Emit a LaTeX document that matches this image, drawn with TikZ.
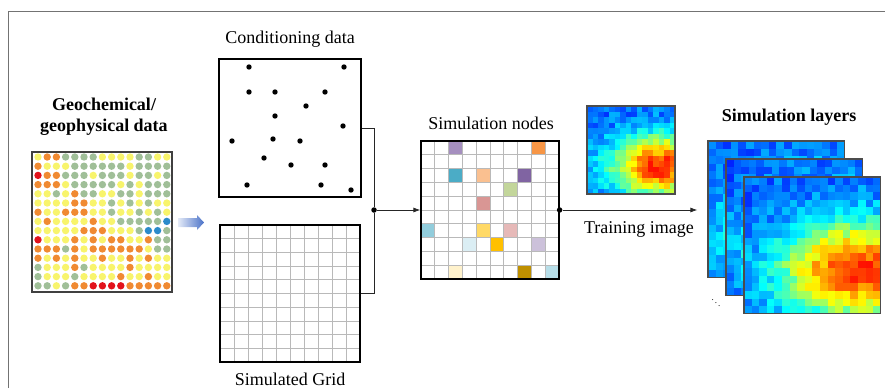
\documentclass[tikz,border=0pt]{standalone}
\usepackage{fontspec}
\setmainfont{Liberation Serif}
\usetikzlibrary{arrows.meta}

% dot colours of the geochemical map
\definecolor{geoY}{HTML}{F8F46C}
\definecolor{geoO}{HTML}{F08A32}
\definecolor{geoG}{HTML}{A0BF98}
\definecolor{geoR}{HTML}{E2121C}
\definecolor{geoB}{HTML}{2B8BCB}
% simulation node colours
\definecolor{snA}{HTML}{A58FBF}
\definecolor{snB}{HTML}{F79646}
\definecolor{snC}{HTML}{4BACC6}
\definecolor{snD}{HTML}{FAC090}
\definecolor{snE}{HTML}{8064A2}
\definecolor{snF}{HTML}{C3D69B}
\definecolor{snG}{HTML}{D99694}
\definecolor{snH}{HTML}{92CDDC}
\definecolor{snI}{HTML}{FFD966}
\definecolor{snJ}{HTML}{E6B9B8}
\definecolor{snK}{HTML}{DBEEF4}
\definecolor{snL}{HTML}{FFC000}
\definecolor{snM}{HTML}{CCC1DA}
\definecolor{snN}{HTML}{FFF2CC}
\definecolor{snO}{HTML}{BF9000}
\definecolor{snP}{HTML}{B7DEE8}
\definecolor{arrL}{HTML}{E4EAF7}
\definecolor{arrR}{HTML}{4A72C8}

% jet-coloured heat map: x0, y0, cell, n, seed
\newcommand{\drawheat}[5]{%
  \pgfmathsetseed{#5}
  \foreach \hi in {1,...,#4}{
    \foreach \hj in {1,...,#4}{
      \pgfmathsetmacro{\hu}{(\hi-0.5)/#4}
      \pgfmathsetmacro{\hw}{(\hj-0.5)/#4}
      \pgfmathsetmacro{\hv}{min(0.86,0.22+0.62*exp(-((\hu-0.82)*(\hu-0.82)/0.3+(\hw-0.68)*(\hw-0.68)/0.12))+0.065*rand)}
      \pgfmathsetmacro{\hr}{max(0,min(1,1.5-abs(4*\hv-3)))}
      \pgfmathsetmacro{\hg}{max(0,min(1,1.5-abs(4*\hv-2)))}
      \pgfmathsetmacro{\hb}{max(0,min(1,1.5-abs(4*\hv-1)))}
      \definecolor{heatc}{rgb}{\hr,\hg,\hb}
      \fill[heatc] ({#1+(\hi-1)*#3},{#2+(\hj-1)*#3}) rectangle ++(#3,#3);
    }
  }
}

\tikzset{
  lbl/.style={inner sep=0pt, font=\fontsize{18}{21}\selectfont},
  lblbold/.style={inner sep=0pt, align=center, font=\fontsize{18}{21}\selectfont\bfseries},
  box/.style={draw=black, line width=1.2pt, inner sep=0pt},
  heatbox/.style={draw=black!70, line width=1.2pt, inner sep=0pt},
  gridline/.style={gray!55, line width=0.7pt},
  conn/.style={draw=black!85, line width=0.8pt},
  jdot/.style={circle, fill=black, inner sep=0pt, minimum size=5.5pt},
  arr/.style={-{Latex[length=7pt,width=5pt]}},
  frame/.style={draw=black!55, line width=1pt},
}

\begin{document}
\begin{tikzpicture}[x=1pt, y=-1pt]
	\useasboundingbox (0,0) rectangle (885,388);
	\draw[frame] (8,388) -- (8,11) -- (885,11);

	% geochemical / geophysical data
	\node[lblbold] (geotitle) at (104,117) {Geochemical/\\geophysical data};
	\foreach \drow [count=\j from 0] in {
		{Y,O,O,G,G,G,G,Y,Y,Y,Y,G,G,Y,Y},
		{O,Y,Y,Y,G,G,G,G,G,G,Y,G,G,G,G},
		{R,O,O,G,G,G,Y,G,G,G,Y,G,G,Y,G},
		{O,O,O,Y,G,G,G,G,G,Y,G,Y,G,G,G},
		{Y,Y,G,Y,O,G,G,Y,Y,G,G,Y,G,G,G},
		{Y,Y,Y,Y,O,O,Y,Y,G,Y,G,Y,G,Y,Y},
		{O,Y,Y,O,O,O,Y,Y,G,Y,Y,G,Y,G,Y},
		{Y,O,Y,Y,Y,Y,O,Y,Y,G,G,G,G,G,B},
		{Y,Y,Y,Y,Y,O,O,O,Y,Y,Y,G,B,B,G},
		{R,Y,Y,Y,O,Y,O,Y,O,O,Y,Y,O,G,G},
		{O,O,O,G,O,Y,O,O,O,O,O,O,Y,G,G},
		{O,Y,O,Y,O,Y,Y,O,Y,Y,O,Y,O,Y,Y},
		{G,Y,Y,Y,O,G,Y,Y,Y,Y,O,Y,Y,Y,Y},
		{G,Y,Y,Y,G,Y,Y,Y,Y,O,Y,Y,O,Y,Y},
		{G,G,Y,G,O,O,R,R,R,R,O,O,O,O,O}}{
		\foreach \dc [count=\i from 0] in \drow
			\fill[geo\dc] ({38+9.2*\i},{157+9.2*\j}) circle (3.7);
	}
	\node[box, draw=black!75, minimum size=140pt] (geo) at (102,222) {};
	\shade[left color=arrL, right color=arrR] (178,218) -- (197,218) -- (197,215)
		-- (204,222.5) -- (197,230) -- (197,227) -- (178,227) -- cycle;

	% conditioning data
	\node[lbl] (condtitle) at (290,39) {Conditioning data};
	\node[box, minimum width=142pt, minimum height=138pt] (cond) at (290,128) {};
	\foreach \px/\py in {249/67, 344/67, 249/92, 275/92, 325/92, 306/106, 275/116,
		343/126, 232/141, 273/139, 300/141, 264/158, 291/165, 325/165, 247/185,
		321/185, 351/190}
		\fill ({\px},{\py}) circle (2.7);

	% simulated grid
	\foreach \k in {1,...,9}{
		\draw[gridline] ({220+14*\k},225) -- ({220+14*\k},362);
		\draw[gridline] (220,{225+13.7*\k}) -- (360,{225+13.7*\k});
	}
	\node[box, minimum width=140pt, minimum height=137pt] (simgrid) at (290,293.5) {};
	\node[lbl] (gridtitle) at (290,379) {Simulated Grid};

	% simulation nodes
	\node[lbl] (nodestitle) at (491,123) {Simulation nodes};
	\foreach \sc/\sr/\scol in {2/0/snA, 8/0/snB, 2/2/snC, 4/2/snD, 7/2/snE, 6/3/snF,
		4/4/snG, 0/6/snH, 4/6/snI, 6/6/snJ, 3/7/snK, 5/7/snL, 8/7/snM, 2/9/snN,
		7/9/snO, 9/9/snP}
		\fill[\scol] ({421+13.8*\sc},{141+13.8*\sr}) rectangle ++(13.8,13.8);
	\foreach \k in {1,...,9}{
		\draw[gridline] ({421+13.8*\k},141) -- ({421+13.8*\k},279);
		\draw[gridline] (421,{141+13.8*\k}) -- (559,{141+13.8*\k});
	}
	\node[box, minimum size=138pt] (simnodes) at (490,210) {};

	% training image
	\drawheat{587}{106}{5.5}{16}{7}
	\node[heatbox, minimum size=88pt] (train) at (631,150) {};
	\node[lbl] (traintitle) at (639,229) {Training image};

	% simulation layers
	\node[lblbold] (laytitle) at (789,117) {Simulation layers};
	\drawheat{708}{141}{7.6}{18}{11}
	\node[heatbox, minimum size=136.8pt] (lay1) at (776.4,209.4) {};
	\drawheat{726}{159}{7.6}{18}{23}
	\node[heatbox, minimum size=136.8pt] (lay2) at (794.4,227.4) {};
	\drawheat{744}{177}{7.6}{18}{5}
	\node[heatbox, minimum size=136.8pt] (lay3) at (812.4,245.4) {};
	\node[inner sep=0pt, font=\fontsize{9}{9}\selectfont] (more) at (716,300) {$\ddots$};

	% connectors
	\node[jdot] (jleft) at (374,210) {};
	\draw[conn] (cond.east) -| (jleft);
	\draw[conn] (simgrid.east) -| (jleft);
	\draw[conn, arr] (jleft) -- (jleft -| simnodes.west);
	\node[jdot] (jright) at (simnodes.east) {};
	\draw[conn, arr, shorten >=10pt] (jright) -- (jright -| lay1.west);
\end{tikzpicture}
\end{document}
